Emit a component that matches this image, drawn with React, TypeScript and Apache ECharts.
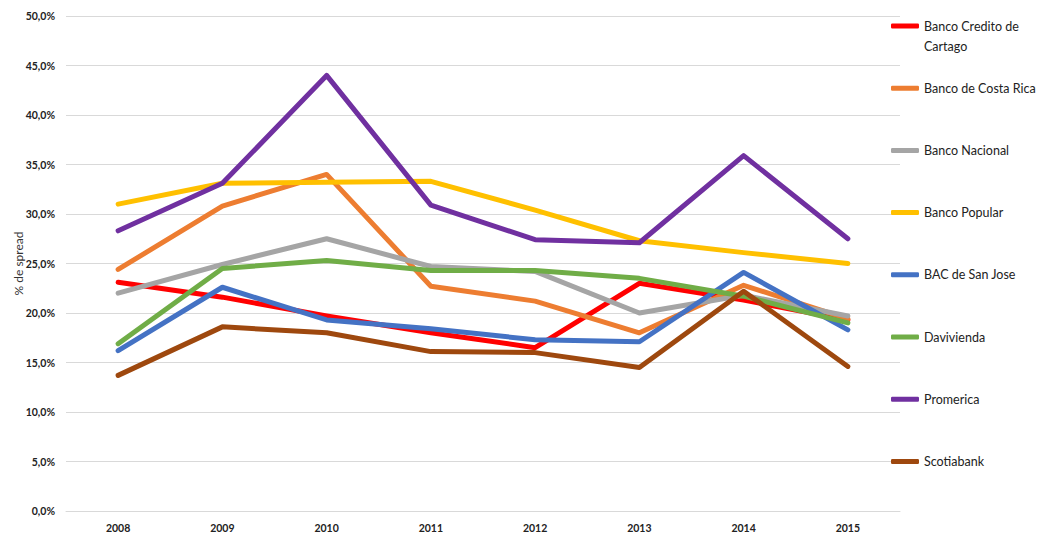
import * as echarts from "echarts";
import { useEffect, useRef } from "react";

const years = ["2008", "2009", "2010", "2011", "2012", "2013", "2014", "2015"];

const bancoCreditoCartago = [23.1, 21.6, 19.7, 18.0, 16.5, 23.0, 21.3, 19.3];
const bancoCostaRica = [24.4, 30.8, 34.0, 22.7, 21.2, 18.0, 22.8, 19.4];
const bancoNacional = [22.0, 24.9, 27.5, 24.7, 24.2, 20.0, 21.8, 19.7];
const bancoPopular = [31.0, 33.1, 33.2, 33.3, 30.4, 27.3, 26.1, 25.0];
const bacSanJose = [16.2, 22.6, 19.3, 18.4, 17.3, 17.1, 24.1, 18.3];
const davivienda = [16.9, 24.5, 25.3, 24.3, 24.3, 23.5, 21.7, 19.0];
const promerica = [28.3, 33.1, 44.0, 30.9, 27.4, 27.1, 35.9, 27.5];
const scotiabank = [13.7, 18.6, 18.0, 16.1, 16.0, 14.5, 22.2, 14.6];

const seriesList = [
  { name: "Banco Credito de Cartago", color: "#FF0000", data: bancoCreditoCartago },
  { name: "Banco de Costa Rica", color: "#ED7D31", data: bancoCostaRica },
  { name: "Banco Nacional", color: "#A5A5A5", data: bancoNacional },
  { name: "Banco Popular", color: "#FFC000", data: bancoPopular },
  { name: "BAC de San Jose", color: "#4472C4", data: bacSanJose },
  { name: "Davivienda", color: "#70AD47", data: davivienda },
  { name: "Promerica", color: "#7030A0", data: promerica },
  { name: "Scotiabank", color: "#9E480E", data: scotiabank },
];

const FONT = "Lato, 'Liberation Sans', sans-serif";

const App = () => {
  const chartRef = useRef<HTMLDivElement | null>(null);

  useEffect(() => {
    if (!chartRef.current) return;
    const chart = echarts.init(chartRef.current, null, { renderer: "svg" });

    chart.setOption({
      animation: false,
      grid: { left: 66, right: 142, top: 16, bottom: 22, outerBoundsMode: "none" },
      legend: {
        orient: "vertical",
        left: 891,
        top: 16,
        padding: 0,
        icon: "roundRect",
        itemWidth: 28,
        itemHeight: 5,
        itemGap: 42.2,
        data: seriesList.map((s) => s.name),
        formatter: (name: string) =>
          name === "Banco Credito de Cartago" ? "Banco Credito de" : name,
        textStyle: {
          fontFamily: FONT,
          fontSize: 12.5,
          color: "#222",
          lineHeight: 20,
        },
      },
      graphic: [
        {
          type: "text",
          left: 924,
          top: 36,
          style: {
            text: "Cartago",
            fontFamily: FONT,
            fontSize: 12.5,
            fill: "#222",
            lineHeight: 20,
          },
        },
      ],
      xAxis: {
        type: "category",
        data: years,
        boundaryGap: true,
        axisLine: { lineStyle: { color: "#D9D9D9", width: 1 } },
        axisTick: { show: false },
        axisLabel: {
          fontFamily: FONT,
          fontSize: 10.5,
          fontWeight: "bold",
          color: "#222",
          margin: 11,
        },
      },
      yAxis: {
        type: "value",
        min: 0,
        max: 50,
        interval: 5,
        name: "% de spread",
        nameLocation: "middle",
        nameGap: 42,
        nameMoveOverlap: false,
        nameTextStyle: { fontFamily: FONT, fontSize: 12, color: "#333" },
        axisLine: { show: false },
        axisTick: { show: false },
        splitLine: { lineStyle: { color: "#D9D9D9", width: 1 } },
        axisLabel: {
          fontFamily: FONT,
          fontSize: 10.5,
          fontWeight: "bold",
          color: "#222",
          margin: 11,
          formatter: (v: number) => v.toFixed(1).replace(".", ",") + "%",
        },
      },
      series: seriesList.map((s) => ({
        name: s.name,
        type: "line",
        data: s.data,
        color: s.color,
        showSymbol: false,
        symbol: "none",
        lineStyle: { width: 5, color: s.color, cap: "round", join: "round" },
      })),
    });

    return () => {
      chart.dispose();
    };
  }, []);

  return (
    <div
      ref={chartRef}
      style={{ position: "fixed", left: 0, top: 0, width: 1042, height: 533, background: "#fff" }}
    />
  );
};

export default App;
